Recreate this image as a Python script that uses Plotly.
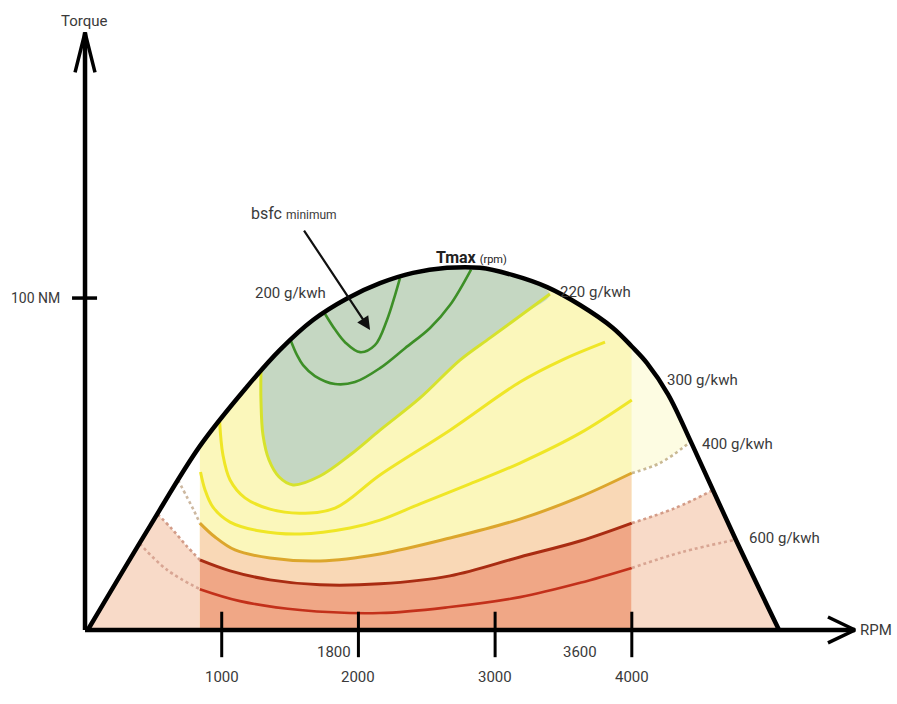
import plotly.graph_objects as go

# ---------------- data (rpm / Nm) ----------------
dome_rpm = [20, 475, 840, 1185, 1426, 1668, 1917, 2158, 2399, 2648, 2889,
            3131, 3380, 3621, 3862, 4000, 4111, 4265, 4440, 4755, 5077]
dome_tq = [0, 31.3, 55.4, 73.3, 84.4, 93.4, 99.9, 104.5, 107.6, 109.1, 109.1,
           106.9, 103.3, 97.9, 91.0, 85.4, 80.4, 71.0, 56.0, 27.7, 0]

# 220 g/kWh iso-line (boundary of the best-efficiency island)
c220_rpm = [1287, 1287, 1302, 1346, 1420, 1522, 1719, 1938, 2158, 2451, 2743, 2963, 3182, 3401]
c220_tq = [77.8, 69.3, 58.7, 51.2, 46.1, 43.7, 46.4, 52.7, 60.2, 69.9, 81.3, 88.0, 94.6, 101.2]

# green iso-lines inside the island
gin_rpm = [1756, 1829, 1902, 2012, 2121, 2209, 2268, 2304]
gin_tq = [95.2, 90.5, 86.7, 83.7, 85.8, 93.4, 100.9, 106.0]
gout_rpm = [1507, 1551, 1595, 1682, 1829, 1975, 2158, 2341, 2524, 2670, 2824]
gout_tq = [87.0, 82.8, 79.8, 76.5, 74.1, 74.7, 78.9, 84.9, 91.0, 97.9, 108.6]

# yellow iso-lines
y1_rpm = [985, 1009, 1061, 1170, 1353, 1573, 1829, 2158, 2670, 3182, 3489, 3804]
y1_tq = [62.6, 52.7, 45.2, 39.8, 36.4, 35.2, 36.7, 46.7, 60.2, 74.7, 81.3, 86.7]
y2_rpm = [845, 878, 936, 1061, 1280, 1573, 1938, 2158, 2451, 2816, 3182, 3621, 4000]
y2_tq = [47.6, 42.2, 37.0, 32.5, 29.8, 28.9, 30.7, 33.1, 38.0, 44.0, 50.3, 59.3, 69.3]

# orange iso-line (400 g/kWh) and its dashed extensions
o_rpm = [840, 951, 1097, 1353, 1719, 2158, 2670, 3182, 3621, 4000]
o_tq = [32.2, 28.0, 24.1, 21.7, 20.8, 22.9, 27.7, 33.4, 40.1, 47.3]
o_left_rpm = [680, 745, 795, 840]
o_left_tq = [45.2, 40.1, 36.1, 32.2]
o_right_rpm = [4000, 4206, 4426]
o_right_tq = [47.3, 50.3, 56.6]

# dark red iso-line and its dashed extensions
r1_rpm = [840, 1061, 1353, 1719, 2158, 2670, 3182, 3621, 4000]
r1_tq = [21.1, 17.8, 15.1, 13.6, 13.9, 16.3, 22.0, 26.8, 32.2]
r1_left_rpm = [530, 630, 737, 840]
r1_left_tq = [34.9, 30.7, 25.6, 21.1]
r1_right_rpm = [4000, 4316, 4587]
r1_right_tq = [32.2, 36.7, 42.0]

# red iso-line (600 g/kWh) and its dashed extensions
r2_rpm = [840, 1134, 1573, 2158, 2670, 3182, 3621, 4000]
r2_tq = [12.3, 8.7, 6.0, 5.1, 6.9, 9.9, 14.2, 18.7]
r2_left_rpm = [400, 600, 840]
r2_left_tq = [26, 18.1, 12.3]
r2_right_rpm = [4000, 4370, 4760]
r2_right_tq = [18.7, 23.5, 27.2]

# map edges of the measured area
map_lo, map_hi = 840, 4000

# axis ticks and labels
x_ticks = [1000, 2000, 3000, 4000]
x_tick_labels = ["1000", "2000", "3000", "4000"]
x_extra = [1800, 3600]
x_extra_labels = ["1800", "3600"]
y_tick = 100
y_tick_label = "100 NM"
x_axis_end = 5633
y_axis_end = 180

iso_labels = ["200 g/kwh", "220 g/kwh", "300 g/kwh", "400 g/kwh", "600 g/kwh"]
iso_label_rpm = [1229, 3460, 4240, 4499, 4843]
iso_label_tq = [101.5, 101.8, 75.3, 56.0, 27.7]

FONT = "Liberation Sans Narrow, Arial Narrow, Roboto, sans-serif"
TXT = "#3a3a3a"

fig = go.Figure()


def add(x, y, **kw):
    kw.setdefault("mode", "lines")
    fig.add_trace(go.Scatter(x=x, y=y, hoverinfo="skip", showlegend=False, **kw))


def seg(xs, ys, lo, hi):
    px, py = [], []
    for a, b in zip(xs, ys):
        if lo <= a <= hi:
            px.append(a)
            py.append(b)
    return px, py


# ---- fills ----
# left zone (outside the measured map)
lx, ly = seg(dome_rpm, dome_tq, 0, r1_left_rpm[0] - 30)
add(lx + r1_left_rpm, ly + r1_left_tq, fill="tozeroy", fillcolor="#f8dac8",
    line=dict(width=0))

# central map, pale yellow base
cx, cy = seg(dome_rpm, dome_tq, map_lo, map_hi)
add(cx, cy, fill="tozeroy", fillcolor="#fbf7bb", line=dict(width=0, shape="spline"))

# best-efficiency island
ix, iy = seg(dome_rpm, dome_tq, c220_rpm[0] + 30, c220_rpm[-1] - 30)
add(c220_rpm + ix[::-1], c220_tq + iy[::-1], fill="toself", fillcolor="#c5d7c2",
    line=dict(width=0, shape="spline"))

# peach band and salmon band
add(o_rpm, o_tq, fill="tozeroy", fillcolor="#f9d8b6", line=dict(width=0, shape="spline"))
add(r1_rpm, r1_tq, fill="tozeroy", fillcolor="#f0a786", line=dict(width=0, shape="spline"))

# right zone
rx, ry = seg(dome_rpm, dome_tq, map_hi, 99999)
add(rx, ry, fill="tozeroy", fillcolor="#fdfce2", line=dict(width=0, shape="spline"))
wx, wy = seg(dome_rpm, dome_tq, o_right_rpm[-1] + 30, 99999)
add(o_right_rpm + wx, o_right_tq + wy, fill="tozeroy", fillcolor="#ffffff", line=dict(width=0))
sx, sy = seg(dome_rpm, dome_tq, r1_right_rpm[-1] + 30, 99999)
add(r1_right_rpm + sx, r1_right_tq + sy, fill="tozeroy", fillcolor="#f8dac8", line=dict(width=0))

# ---- iso-lines ----
add(gout_rpm, gout_tq, line=dict(color="#3d8f27", width=2.6, shape="spline"))
add(gin_rpm, gin_tq, line=dict(color="#3d8f27", width=2.6, shape="spline"))
add(c220_rpm, c220_tq, line=dict(color="#d6e22c", width=3, shape="spline"))
add(y1_rpm, y1_tq, line=dict(color="#efe626", width=3, shape="spline"))
add(y2_rpm, y2_tq, line=dict(color="#efe626", width=3, shape="spline"))
add(o_rpm, o_tq, line=dict(color="#dca62c", width=3, shape="spline"))
add(r1_rpm, r1_tq, line=dict(color="#a92c12", width=3, shape="spline"))
add(r2_rpm, r2_tq, line=dict(color="#c3301a", width=2.6, shape="spline"))

dash_style = dict(width=2.6, dash="dot", shape="spline")
add(o_left_rpm, o_left_tq, line=dict(color="#cdb8a0", **dash_style))
add(o_right_rpm, o_right_tq, line=dict(color="#c9b994", **dash_style))
add(r1_left_rpm, r1_left_tq, line=dict(color="#d39c88", **dash_style))
add(r1_right_rpm, r1_right_tq, line=dict(color="#d39c88", **dash_style))
add(r2_left_rpm, r2_left_tq, line=dict(color="#d8a593", **dash_style))
add(r2_right_rpm, r2_right_tq, line=dict(color="#d8a593", **dash_style))

# torque curve
add(dome_rpm, dome_tq, line=dict(color="#000000", width=4.5, shape="spline", smoothing=1))

# ---- axes ----
add([0, x_axis_end], [0, 0], line=dict(color="#000", width=4.5))
add([0, 0], [0, y_axis_end], line=dict(color="#000", width=4.5))
add([x_axis_end - 198, x_axis_end, x_axis_end - 198], [3.9, 0, -3.9],
    line=dict(color="#000", width=3.5))
add([-73, 0, 73], [y_axis_end - 12, y_axis_end, y_axis_end - 12],
    line=dict(color="#000", width=3.5))

for t in x_ticks:
    add([t, t], [5.5, -8.2], line=dict(color="#000", width=3))
add([-95, 88], [y_tick, y_tick], line=dict(color="#000", width=3.5))

ann = []
for t, lab in zip(x_ticks, x_tick_labels):
    ann.append(dict(x=t, y=-14.2, text=lab, showarrow=False, xanchor="center",
                    yanchor="middle", font=dict(size=15, color=TXT, family=FONT)))
for t, lab in zip(x_extra, x_extra_labels):
    ann.append(dict(x=t, y=-6.6, text=lab, showarrow=False, xanchor="center", xshift=3,
                    yanchor="middle", font=dict(size=15, color=TXT, family=FONT)))
ann.append(dict(x=-168, y=y_tick, text=y_tick_label, showarrow=False, xanchor="right",
                yanchor="middle", font=dict(size=14, color=TXT, family=FONT)))
ann.append(dict(x=-7, y=183.5, text="Torque", showarrow=False, xanchor="center",
                yanchor="middle", font=dict(size=15, color=TXT, family=FONT)))
ann.append(dict(x=5655, y=0, text="RPM", showarrow=False, xanchor="left",
                yanchor="middle", font=dict(size=15, color=TXT, family=FONT)))
for lab, rx_, ry_ in zip(iso_labels, iso_label_rpm, iso_label_tq):
    ann.append(dict(x=rx_, y=ry_, text=lab, showarrow=False, xanchor="left",
                    yanchor="middle", font=dict(size=15, color=TXT, family=FONT)))
ann.append(dict(x=2553, y=112.3, text="<b>Tmax</b> <span style='font-size:11px'>(rpm)</span>",
                showarrow=False, xanchor="left", yanchor="middle",
                font=dict(size=16, color="#222", family=FONT)))
ann.append(dict(x=1200, y=125.6, text="bsfc <span style='font-size:12px'>minimum</span>",
                showarrow=False, xanchor="left", yanchor="middle",
                font=dict(size=16, color=TXT, family=FONT)))
ann.append(dict(x=2085, y=90.4, ax=1595, ay=120.8, axref="x", ayref="y", text="",
                showarrow=True, arrowhead=2, arrowsize=1.2, arrowwidth=2.2,
                arrowcolor="#111"))

fig.update_layout(
    width=897, height=704,
    margin=dict(l=0, r=0, t=0, b=0),
    paper_bgcolor="white", plot_bgcolor="white",
    xaxis=dict(range=[-622, 5940], visible=False, fixedrange=True),
    yaxis=dict(range=[-22.3, 189.8], visible=False, fixedrange=True),
    annotations=ann,
    showlegend=False,
)

fig.write_html(
    "out.html",
    config=dict(displayModeBar=False),
    post_script="document.body.style.margin='0px';document.body.style.padding='0px';",
)
